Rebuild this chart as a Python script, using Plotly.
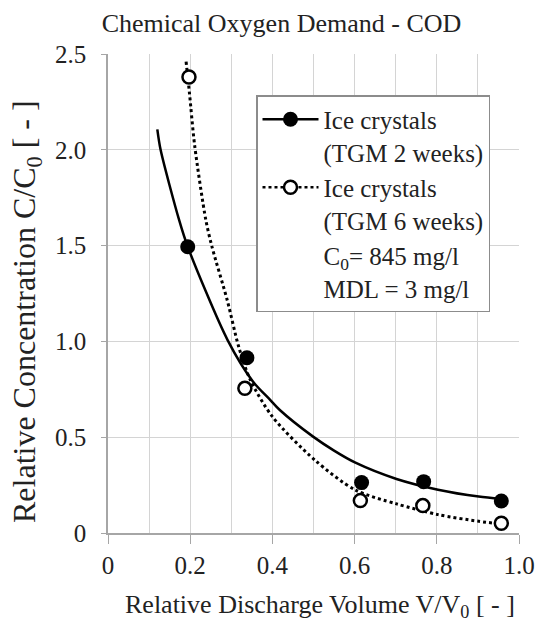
import plotly.graph_objects as go

# Measured points
x_2w = [0.194, 0.338, 0.617, 0.768, 0.957]
y_2w = [1.494, 0.915, 0.263, 0.268, 0.167]
x_6w = [0.197, 0.333, 0.614, 0.766, 0.957]
y_6w = [2.38, 0.755, 0.169, 0.143, 0.051]

# Trend lines
trend_2w_x = [0.12, 0.128, 0.173, 0.194, 0.291, 0.353, 0.395, 0.418, 0.499, 0.55, 0.602, 0.702, 0.803, 0.902, 0.957]
trend_2w_y = [2.107, 2.0, 1.634, 1.494, 1.007, 0.79, 0.694, 0.642, 0.503, 0.43, 0.367, 0.282, 0.226, 0.19, 0.178]
trend_6w_x = [0.19, 0.198, 0.211, 0.238, 0.253, 0.29, 0.318, 0.346, 0.4, 0.503, 0.602, 0.702, 0.803, 0.902, 0.957]
trend_6w_y = [2.46, 2.30, 2.02, 1.634, 1.494, 1.216, 0.972, 0.80, 0.607, 0.381, 0.224, 0.152, 0.096, 0.061, 0.047]

x_ticks = [0, 0.2, 0.4, 0.6, 0.8, 1.0]
x_tick_text = ["0", "0.2", "0.4", "0.6", "0.8", "1.0"]
y_ticks = [0, 0.5, 1.0, 1.5, 2.0, 2.5]
y_tick_text = ["0", "0.5", "1.0", "1.5", "2.0", "2.5"]

FONT = "Liberation Serif, DejaVu Serif, serif"
TXT = "#222222"
fig = go.Figure()

# trend lines (no legend)
fig.add_trace(go.Scatter(x=trend_2w_x, y=trend_2w_y, mode="lines",
                         line=dict(color="black", width=2.5, shape="spline", smoothing=0.8),
                         showlegend=False, hoverinfo="skip"))
fig.add_trace(go.Scatter(x=trend_6w_x, y=trend_6w_y, mode="lines",
                         line=dict(color="black", width=3, dash="dot", shape="spline", smoothing=0.8),
                         showlegend=False, hoverinfo="skip"))

# data markers
fig.add_trace(go.Scatter(x=x_2w, y=y_2w, mode="markers", showlegend=False,
                         marker=dict(symbol="circle", size=15, color="black")))
fig.add_trace(go.Scatter(x=x_6w, y=y_6w, mode="markers", showlegend=False,
                         marker=dict(symbol="circle", size=13, color="white",
                                     line=dict(color="black", width=2.5))))
# legend entries
fig.add_trace(go.Scatter(x=[None], y=[None], mode="lines+markers",
                         name="Ice crystals<br>(TGM 2 weeks)",
                         line=dict(color="black", width=2.5),
                         marker=dict(symbol="circle", size=15, color="black")))
fig.add_trace(go.Scatter(x=[None], y=[None], mode="lines+markers",
                         name="Ice crystals<br>(TGM 6 weeks)",
                         line=dict(color="black", width=2.5, dash="dot"),
                         marker=dict(symbol="circle", size=13, color="white",
                                     line=dict(color="black", width=2.5))))
fig.add_trace(go.Scatter(x=[None], y=[None], mode="lines",
                         name="C<sub>0</sub>= 845 mg/l<br>MDL = 3 mg/l",
                         line=dict(color="rgba(0,0,0,0)", width=0)))

grid = "#d4d4d4"
axis_col = "#a6a6a6"
fig.update_layout(
    width=540, height=619,
    margin=dict(l=108, r=21, t=54, b=86, autoexpand=False),
    paper_bgcolor="white", plot_bgcolor="white",
    font=dict(family=FONT, size=25, color=TXT),
    showlegend=True,
    legend=dict(x=(256 - 108) / 411, y=(533 - 95) / 479, xanchor="left", yanchor="top",
                bgcolor="white", bordercolor="#8c8c8c", borderwidth=1.5,
                font=dict(family=FONT, size=25, color=TXT),
                valign="top", tracegroupgap=4, itemwidth=56),
    xaxis=dict(range=[0, 1.0], tickvals=x_ticks, ticktext=x_tick_text,
               showgrid=True, gridcolor=grid, gridwidth=1,
               minor=dict(dtick=0.1, showgrid=True, gridcolor=grid, gridwidth=1),
               showline=True, linecolor=axis_col, linewidth=1.5,
               ticks="outside", ticklen=9, tickcolor=axis_col, tickwidth=1,
               zeroline=False, automargin=False,
               tickfont=dict(family=FONT, size=25, color=TXT)),
    yaxis=dict(range=[0, 2.5], tickvals=y_ticks, ticktext=y_tick_text,
               showgrid=True, gridcolor=grid, gridwidth=1,
               showline=True, linecolor=axis_col, linewidth=1.5,
               ticks="outside", ticklen=5, tickcolor=axis_col, tickwidth=1,
               zeroline=False, automargin=False, ticklabelstandoff=10,
               tickfont=dict(family=FONT, size=25, color=TXT)),
    title=dict(text="Chemical Oxygen Demand - COD", x=281.5 / 540, xanchor="center",
               xref="container", y=1 - 23 / 619, yanchor="middle", yref="container",
               font=dict(family=FONT, size=26, color=TXT)),
    annotations=[
        dict(text="Relative Discharge Volume V/V<sub>0</sub> [ - ]", xref="paper", yref="paper",
             x=(320 - 108) / 411, y=(533 - 606) / 479, xanchor="center", yanchor="middle",
             showarrow=False, font=dict(family=FONT, size=26, color=TXT)),
        dict(text="Relative Concentration C/C<sub>0</sub> [ - ]", xref="paper", yref="paper",
             x=(26 - 108) / 411, y=(533 - 312) / 479, xanchor="center", yanchor="middle",
             textangle=-90, showarrow=False, font=dict(family=FONT, size=32, color=TXT)),
    ],
)

fig.write_html("out.html", config={"displayModeBar": False},
               post_script="document.body.style.margin='0px';document.body.style.overflow='hidden';")
